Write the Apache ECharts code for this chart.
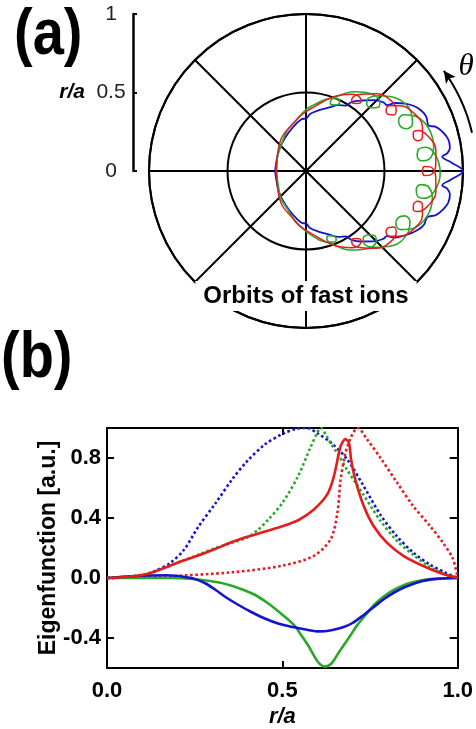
<!DOCTYPE html>
<html>
<head>
<meta charset="utf-8">
<script src="https://cdn.jsdelivr.net/npm/echarts@6/dist/echarts.min.js"></script>
<style>
  html, body { margin: 0; padding: 0; background: #fff; }
  #chart { width: 476px; height: 729px; }
</style>
</head>
<body>
<div id="chart"></div>
<script>
// ---------- Panel (a): guiding-centre orbits in the poloidal plane ----------
// Radial scale of the poloidal cross-section (r/a)
const radialTicks = [0, 0.5, 1];
// Orbit centre on the outboard midplane (r/a)
const orbitCentre = 0.32;

// Orbits as [rho, psi]: rho in r/a units measured from the orbit centre,
// psi in degrees, counter-clockwise from the outboard midplane.
const orbitBlue = [
  [0.517,-180],[0.51,-165],[0.50,-155],[0.49,-145],[0.48,-137],[0.462,-133],[0.468,-129],
  [0.455,-122],[0.44,-113],[0.435,-105],[0.422,-99],[0.44,-94],[0.45,-86],[0.462,-76],[0.465,-68],[0.458,-65],
  [0.49,-60],[0.51,-54],[0.53,-48],[0.545,-43],[0.55,-38],[0.54,-33],
  [0.58,-29],[0.605,-24],[0.62,-19],[0.615,-14],[0.59,-11],[0.555,-9.5],
  [0.61,-5],[0.68,0],[0.61,5],
  [0.555,9.5],[0.59,11],[0.615,14],[0.62,19],[0.605,24],[0.58,29],[0.545,32],
  [0.565,38],[0.565,43],[0.555,48],[0.53,54],[0.50,60],[0.462,65],
  [0.47,68],[0.465,76],[0.45,86],[0.44,94],[0.422,99],[0.435,105],[0.44,113],[0.455,122],
  [0.468,129],[0.462,133],[0.48,137],[0.49,145],[0.50,155],[0.51,165],[0.517,180]
];

const orbitGreen = [
  [0.51,-180],[0.505,-170],[0.51,-160],[0.50,-150],[0.505,-140],[0.50,-130],[0.50,-125.5],
  [0.49,-112.5],[0.47,-106.5],[0.45,-106.5],[0.44,-110],[0.45,-113.5],[0.47,-113.5],[0.49,-107.5],
  [0.505,-94.5],
  [0.50,-81.7],[0.465,-74.1],[0.43,-73.9],[0.415,-79],[0.43,-84.1],[0.465,-83.9],[0.50,-76.3],
  [0.53,-63.5],
  [0.515,-50.7],[0.468,-43.1],[0.42,-42.9],[0.40,-48],[0.42,-53.1],[0.468,-52.9],[0.515,-45.3],
  [0.535,-32.5],
  [0.515,-19.7],[0.468,-12.1],[0.42,-11.9],[0.40,-17],[0.42,-22.1],[0.468,-21.9],[0.515,-14.3],
  [0.535,-1.5],
  [0.515,11.3],[0.468,18.9],[0.42,19.1],[0.40,14],[0.42,8.9],[0.468,9.1],[0.515,16.7],
  [0.535,29.5],
  [0.515,42.3],[0.468,49.9],[0.42,50.1],[0.40,45],[0.42,39.9],[0.468,40.1],[0.515,47.7],
  [0.53,60.5],
  [0.50,73.3],[0.465,80.9],[0.43,81.1],[0.415,76],[0.43,70.9],[0.465,71.1],[0.50,78.7],
  [0.505,91.5],
  [0.49,104.5],[0.47,110.5],[0.45,110.5],[0.44,107],[0.45,103.5],[0.47,103.5],[0.49,109.5],
  [0.50,122.5],
  [0.505,130],[0.50,140],[0.51,150],[0.505,160],[0.51,170],[0.51,180]
];

const orbitRed = [
  [0.507,-180],[0.515,-165],[0.52,-155],[0.505,-145],[0.50,-135],[0.49,-125],[0.49,-115],[0.495,-105],
  [0.49,-93.7],[0.465,-86.8],[0.44,-86.2],[0.43,-90],[0.44,-93.8],[0.465,-93.2],[0.49,-86.3],
  [0.51,-75],
  [0.50,-63.7],[0.465,-56.8],[0.43,-56.2],[0.415,-60],[0.43,-63.8],[0.465,-63.2],[0.50,-56.3],
  [0.52,-45],
  [0.507,-33.7],[0.472,-26.8],[0.437,-26.2],[0.422,-30],[0.437,-33.8],[0.472,-33.2],[0.507,-26.3],
  [0.525,-15],
  [0.507,-3.7],[0.472,3.2],[0.437,3.8],[0.422,0],[0.437,-3.8],[0.472,-3.2],[0.507,3.7],
  [0.525,15],
  [0.507,26.3],[0.472,33.2],[0.437,33.8],[0.422,30],[0.437,26.2],[0.472,26.8],[0.507,33.7],
  [0.52,45],
  [0.50,56.3],[0.465,63.2],[0.43,63.8],[0.415,60],[0.43,56.2],[0.465,56.8],[0.50,63.7],
  [0.51,75],
  [0.49,86.3],[0.465,93.2],[0.44,93.8],[0.43,90],[0.44,86.2],[0.465,86.8],[0.49,93.7],
  [0.495,105],
  [0.49,115],[0.49,125],[0.50,135],[0.505,145],[0.52,155],[0.515,165],[0.507,180]
];

// Poloidal-angle arrow just outside the last closed surface: [r/a, theta deg]
const thetaArrowR = 1.085;
const thetaArrowAngles = [13, 19, 25, 31, 36];

// ---------- Panel (b): radial eigenfunctions, [r/a, amplitude] ----------
const efBlueDotted = [
  [0,0],[0.05,0.005],[0.1,0.02],[0.14,0.05],[0.18,0.1],[0.22,0.19],[0.26,0.34],[0.31,0.5],
  [0.356,0.655],[0.40,0.78],[0.45,0.89],[0.50,0.96],[0.54,0.995],[0.57,1.0],[0.60,0.965],
  [0.64,0.9],[0.685,0.79],[0.73,0.62],[0.78,0.42],[0.826,0.28],[0.873,0.17],[0.92,0.09],
  [0.966,0.035],[1.0,0]
];
const efGreenDotted = [
  [0,0],[0.06,0.01],[0.12,0.03],[0.167,0.07],[0.21,0.11],[0.26,0.155],[0.31,0.2],[0.356,0.235],
  [0.40,0.27],[0.43,0.32],[0.46,0.39],[0.50,0.5],[0.545,0.68],[0.58,0.87],[0.60,0.97],[0.61,1.0],
  [0.625,0.95],[0.64,0.89],[0.66,0.82],[0.685,0.72],[0.71,0.63],[0.73,0.56],[0.76,0.45],
  [0.78,0.38],[0.826,0.25],[0.873,0.155],[0.92,0.075],[0.96,0.03],[1.0,0]
];
const efRedDotted = [
  [0,0],[0.167,0.011],[0.356,0.038],[0.5,0.082],[0.59,0.148],[0.638,0.26],[0.657,0.435],
  [0.666,0.656],[0.68,0.833],[0.694,0.93],[0.708,0.99],[0.715,1.0],[0.74,0.93],[0.78,0.8],
  [0.826,0.64],[0.873,0.48],[0.92,0.35],[0.958,0.235],[0.986,0.13],[1.0,0]
];
const efRedSolid = [
  [0,0],[0.07,0.01],[0.12,0.03],[0.167,0.07],[0.21,0.11],[0.26,0.15],[0.31,0.195],[0.356,0.24],
  [0.40,0.275],[0.45,0.31],[0.50,0.345],[0.545,0.385],[0.59,0.457],[0.628,0.557],[0.647,0.678],
  [0.666,0.877],[0.68,0.926],[0.69,0.90],[0.696,0.79],[0.708,0.656],[0.732,0.48],[0.76,0.347],
  [0.798,0.236],[0.845,0.148],[0.90,0.082],[0.958,0.027],[1.0,0]
];
const efGreenSolid = [
  [0,0],[0.17,0],[0.26,-0.01],[0.32,-0.03],[0.36,-0.055],[0.42,-0.11],[0.46,-0.17],[0.50,-0.245],
  [0.534,-0.316],[0.555,-0.385],[0.575,-0.455],[0.60,-0.555],[0.62,-0.59],[0.64,-0.57],
  [0.66,-0.5],[0.675,-0.448],[0.695,-0.38],[0.713,-0.316],[0.74,-0.24],[0.76,-0.183],
  [0.78,-0.14],[0.806,-0.095],[0.835,-0.06],[0.863,-0.033],[0.92,-0.007],[1.0,0]
];
const efBlueSolid = [
  [0,0],[0.07,0.012],[0.17,0.018],[0.24,0.0],[0.28,-0.035],[0.31,-0.08],[0.34,-0.13],[0.375,-0.18],
  [0.41,-0.225],[0.45,-0.27],[0.49,-0.305],[0.53,-0.327],[0.57,-0.345],[0.605,-0.356],[0.64,-0.348],
  [0.675,-0.327],[0.70,-0.30],[0.73,-0.25],[0.76,-0.195],[0.79,-0.14],[0.82,-0.095],[0.85,-0.06],
  [0.90,-0.02],[0.95,-0.004],[1.0,0]
];
const efTicks = [-0.4, 0, 0.4, 0.8];

// ---------- Layout ----------
const FONT = '"Liberation Sans", Arial, sans-serif';
const BLUE = '#1414cc', GREEN = '#2aa82a', RED = '#e41c1c';
const polarCentre = [306, 171];
const polarRadius = 157;
const outerScale = 1.2;   // extra polar frame reaching past r/a = 1 for the theta arrow

const chart = echarts.init(document.getElementById('chart'), null, { renderer: 'canvas' });

const thetaArrowData = thetaArrowAngles.map((a, i) => {
  const last = i === thetaArrowAngles.length - 1;
  return last
    ? { value: [thetaArrowR, a], symbol: 'arrow', symbolSize: [9, 12], symbolRotate: a }
    : { value: [thetaArrowR, a], symbol: 'none' };
});

function orbitSeries(data, color, width) {
  return {
    type: 'line', coordinateSystem: 'polar', polarIndex: 1,
    data: data, showSymbol: false, symbol: 'none', smooth: 0.4, silent: true,
    lineStyle: { color: color, width: width }
  };
}
function efSeries(data, color, dotted) {
  return {
    type: 'line', xAxisIndex: 1, yAxisIndex: 1, data: data,
    showSymbol: false, symbol: 'none', smooth: 0.3, silent: true,
    lineStyle: { color: color, width: 2.6, type: dotted ? 'dotted' : 'solid' }
  };
}
function bigLabel(text, x, y) {
  return { type: 'text', x: x, y: y, z: 100, scaleY: 1.17,
           style: { text: text, fontSize: 56, fontWeight: 'bold', fontFamily: FONT, fill: '#000' } };
}

const option = {
  animation: false,
  backgroundColor: '#fff',
  polar: [
    { center: [polarCentre[0], polarCentre[1]], radius: polarRadius },
    { center: [polarCentre[0] + orbitCentre * polarRadius, polarCentre[1]], radius: polarRadius },
    { center: [polarCentre[0], polarCentre[1]], radius: polarRadius * outerScale }
  ],
  angleAxis: [
    {
      polarIndex: 0, type: 'value', min: 0, max: 360, interval: 45, startAngle: 0, clockwise: false,
      axisLine: { show: true, lineStyle: { color: '#000', width: 2 } },
      axisTick: { show: false }, axisLabel: { show: false },
      splitLine: { show: true, lineStyle: { color: '#000', width: 2 } }
    },
    { polarIndex: 1, type: 'value', min: -180, max: 180, startAngle: 180, clockwise: false, show: false },
    { polarIndex: 2, type: 'value', min: 0, max: 360, startAngle: 0, clockwise: false, show: false }
  ],
  radiusAxis: [
    {
      polarIndex: 0, type: 'value', min: 0, max: 1, interval: 0.5,
      axisLine: { show: false }, axisTick: { show: false }, axisLabel: { show: false },
      splitLine: { show: true, lineStyle: { color: '#000', width: 2 } }
    },
    { polarIndex: 1, type: 'value', min: 0, max: 1, show: false },
    { polarIndex: 2, type: 'value', min: 0, max: outerScale, show: false }
  ],
  grid: [
    { left: 133, top: 14, width: 1, height: 157 },
    { left: 107, top: 428, width: 355, height: 241.5 }
  ],
  xAxis: [
    { gridIndex: 0, type: 'value', min: 0, max: 1, show: false },
    {
      gridIndex: 1, type: 'value', min: 0, max: 1, interval: 0.5, position: 'bottom',
      axisLine: { show: true, onZero: false, lineStyle: { color: '#000', width: 2 } },
      axisTick: { show: true, inside: true, length: 7, lineStyle: { color: '#000', width: 2 } },
      axisLabel: { formatter: v => v.toFixed(1), fontSize: 22, fontWeight: 'bold', color: '#000', fontFamily: FONT, margin: 12 },
      splitLine: { show: false },
      name: 'r/a', nameLocation: 'middle', nameGap: 38,
      nameTextStyle: { fontSize: 22, fontWeight: 'bold', fontStyle: 'italic', color: '#000', fontFamily: FONT }
    },
    {
      gridIndex: 1, type: 'value', min: 0, max: 1, interval: 0.5, position: 'top',
      axisLine: { show: true, onZero: false, lineStyle: { color: '#000', width: 2 } },
      axisTick: { show: true, inside: true, length: 7, lineStyle: { color: '#000', width: 2 } },
      axisLabel: { show: false }, splitLine: { show: false }
    }
  ],
  yAxis: [
    {
      gridIndex: 0, type: 'value', min: 0, max: 1, interval: 0.5,
      axisLine: { show: true, onZero: false, lineStyle: { color: '#000', width: 2.5 } },
      axisTick: { show: true, inside: true, length: 4, lineStyle: { color: '#000', width: 2 } },
      axisLabel: { color: '#222', fontSize: 21, fontFamily: FONT, align: 'center', margin: 22,
                   customValues: radialTicks },
      splitLine: { show: false },
      name: 'r/a', nameLocation: 'middle', nameRotate: 0, nameGap: 48,
      nameTextStyle: { fontSize: 21, fontWeight: 'bold', fontStyle: 'italic', color: '#000',
                       fontFamily: FONT, align: 'right', verticalAlign: 'middle' }
    },
    {
      gridIndex: 1, type: 'value', min: -0.6, max: 1.0, position: 'left',
      axisLine: { show: true, onZero: false, lineStyle: { color: '#000', width: 2 } },
      axisTick: { show: true, inside: true, length: 7, customValues: efTicks, lineStyle: { color: '#000', width: 2 } },
      axisLabel: { customValues: efTicks, formatter: v => v.toFixed(1), fontSize: 22, fontWeight: 'bold',
                   color: '#000', fontFamily: FONT, margin: 6 },
      splitLine: { show: false },
      name: 'Eigenfunction [a.u.]', nameLocation: 'middle', nameGap: 47, nameMoveOverlap: false,
      nameTextStyle: { fontSize: 23, fontWeight: 'bold', color: '#000', fontFamily: FONT }
    },
    {
      gridIndex: 1, type: 'value', min: -0.6, max: 1.0, position: 'right',
      axisLine: { show: true, onZero: false, lineStyle: { color: '#000', width: 2 } },
      axisTick: { show: true, inside: true, length: 8, customValues: efTicks, lineStyle: { color: '#000', width: 2 } },
      axisLabel: { show: false }, splitLine: { show: false }
    }
  ],
  graphic: [
    bigLabel('(a)', 14, 3.5),
    bigLabel('(b)', 1, 326),
    { type: 'text', x: 306, y: 296, z: 100,
      style: { text: 'Orbits of fast ions', fontSize: 24, fontWeight: 'bold', fontFamily: FONT, fill: '#000',
               align: 'center', verticalAlign: 'middle', backgroundColor: '#fff', padding: [3, 8, 3, 8] } },
    { type: 'text', x: 466, y: 67, z: 100,
      style: { text: 'θ', fontSize: 31, fontStyle: 'italic', fontFamily: '"Liberation Serif", "DejaVu Serif", serif',
               fill: '#000', align: 'center', verticalAlign: 'middle' } }
  ],
  series: [
    // the r/a scale bar grid needs a series bound to it
    { type: 'line', xAxisIndex: 0, yAxisIndex: 0, data: [], silent: true },
    orbitSeries(orbitBlue, BLUE, 1.8),
    orbitSeries(orbitGreen, GREEN, 1.6),
    orbitSeries(orbitRed, RED, 1.5),
    {
      type: 'line', coordinateSystem: 'polar', polarIndex: 2, clip: false, silent: true,
      data: thetaArrowData, smooth: 0.5, showSymbol: true, symbol: 'none',
      lineStyle: { color: '#000', width: 2 }, itemStyle: { color: '#000' }
    },
    efSeries(efBlueDotted, BLUE, true),
    efSeries(efGreenDotted, GREEN, true),
    efSeries(efRedDotted, RED, true),
    efSeries(efGreenSolid, GREEN, false),
    efSeries(efBlueSolid, BLUE, false),
    efSeries(efRedSolid, RED, false)
  ]
};

chart.setOption(option);
</script>
</body>
</html>
